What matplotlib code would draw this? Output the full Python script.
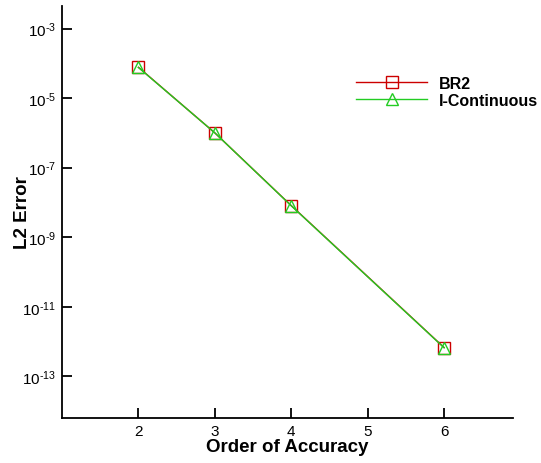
import numpy as np
import matplotlib
matplotlib.use("Agg")
import matplotlib.pyplot as plt

plt.rcParams['font.family'] = ['Liberation Sans', 'DejaVu Sans']
plt.rcParams['mathtext.fontset'] = 'custom'
plt.rcParams['mathtext.rm'] = 'Liberation Sans'
plt.rcParams['mathtext.default'] = 'regular'

# data
order = [2, 3, 4, 6]
err_br2 = [7.7e-5, 1.0e-6, 8.1e-9, 6.7e-13]
err_icont = [7.6e-5, 1.0e-6, 8.0e-9, 6.6e-13]
ytick_exp = [-3, -5, -7, -9, -11, -13]
xticks = [2, 3, 4, 5, 6]

fig = plt.figure(figsize=(5.41, 4.64), dpi=100)
ax = fig.add_axes([0.1146, 0.097, 0.8334, 0.888])

ax.plot(order, err_br2, color='#cc0000', lw=1.0, marker='s', ms=8.5,
        mfc='none', mec='#cc0000', mew=1.0, label='BR2')
ax.plot(order, err_icont, color='#22cc22', lw=1.0, marker='^', ms=8.5,
        mfc='none', mec='#22cc22', mew=1.0, label='I-Continuous')

ax.set_yscale('log')
ax.set_xlim(1.0, 6.9)
ax.set_ylim(10 ** -14.2, 10 ** -2.35)
ax.set_xticks(xticks)
ax.set_xticklabels([str(x) for x in xticks])
ax.set_yticks([10.0 ** e for e in ytick_exp])
ax.set_yticklabels([r'$10^{\text{-}%d}$' % -e for e in ytick_exp])
ax.yaxis.set_minor_locator(matplotlib.ticker.NullLocator())

for s in ['top', 'right']:
    ax.spines[s].set_visible(False)
for s in ['left', 'bottom']:
    ax.spines[s].set_linewidth(1.3)
ax.tick_params(direction='in', length=7, width=1.3, labelsize=11, pad=4)

ax.set_xlabel('Order of Accuracy', fontsize=13.5, fontweight='bold', labelpad=0)
ax.set_ylabel('L2 Error', fontsize=13.5, fontweight='bold')
ax.yaxis.set_label_coords(-0.069, 0.5)

leg = fig.legend(loc='center left', bbox_to_anchor=(0.658, 0.80), frameon=False,
                 prop={'weight': 'bold', 'size': 11.5}, handlelength=4.45,
                 handletextpad=0.75, labelspacing=0.12, borderpad=0,
                 borderaxespad=0, numpoints=1)

fig.savefig('out.png', dpi=100)
